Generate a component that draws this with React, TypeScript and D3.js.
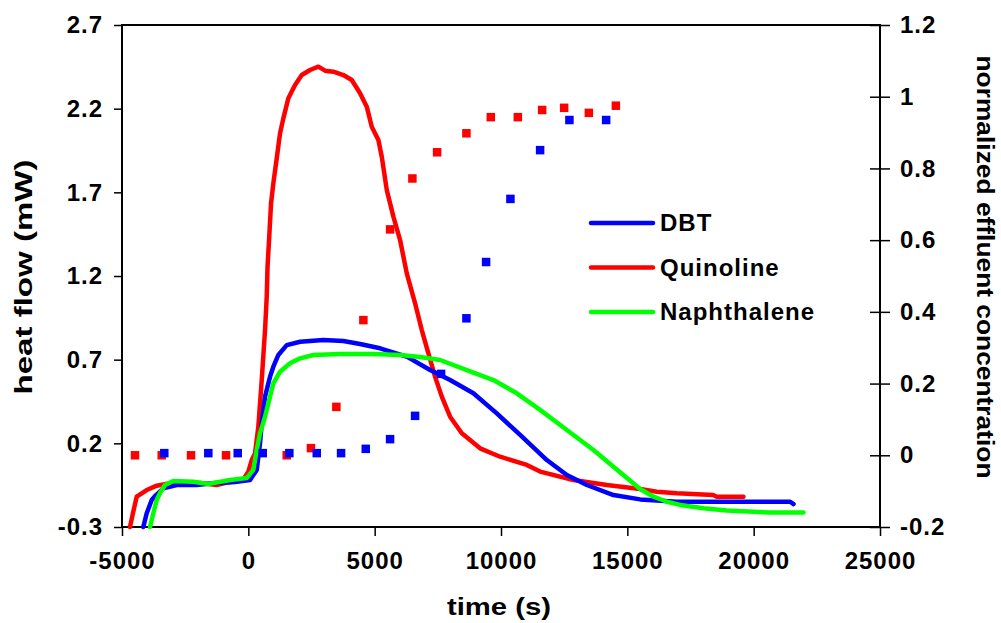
import React, { useEffect, useRef } from 'react';
import * as d3 from 'd3';

const xTicks = [-5000, 0, 5000, 10000, 15000, 20000, 25000];
const leftTicks = [-0.3, 0.2, 0.7, 1.2, 1.7, 2.2, 2.7];
const rightTicks = [-0.2, 0, 0.2, 0.4, 0.6, 0.8, 1, 1.2];

const seriesNames = ['DBT', 'Quinoline', 'Naphthalene'];
const seriesColors = ['#0000ff', '#ff0000', '#00ff00'];

// heat flow curves (time s, heat flow mW)
const quinolineCurve: [number, number][] = [
  [-4684, -0.3], [-4565, -0.216], [-4418, -0.119], [-4022, -0.079], [-3626, -0.053], [-3100, -0.039],
  [-1912, -0.037], [-1251, -0.049], [-855, -0.035], [-210, -0.019], [0, 0.031], [135, 0.1], [265, 0.14],
  [396, 0.3], [531, 0.579], [661, 0.877], [728, 1.076], [760, 1.256], [820, 1.415], [899, 1.634],
  [990, 1.754], [1124, 1.903], [1255, 2.053], [1386, 2.142], [1584, 2.262], [1849, 2.342], [2114, 2.401],
  [2443, 2.431], [2771, 2.451], [3037, 2.427], [3365, 2.421], [3761, 2.401], [4094, 2.371], [4422, 2.292],
  [4687, 2.212], [4885, 2.092], [5147, 2.013], [5281, 1.913], [5479, 1.714], [5741, 1.555], [6006, 1.415],
  [6271, 1.216], [6600, 1.037], [6865, 0.877], [7126, 0.738], [7391, 0.598], [7657, 0.479], [7985, 0.359],
  [8449, 0.26], [9173, 0.17], [9965, 0.12], [11022, 0.071], [11548, 0.031], [12867, -0.019], [14189, -0.049],
  [15507, -0.073], [16169, -0.089], [16960, -0.099], [18397, -0.109], [18544, -0.119], [19597, -0.119],
];

const dbtCurve: [number, number][] = [
  [-4157, -0.3], [-4022, -0.218], [-3824, -0.139], [-3654, -0.109], [-3365, -0.069], [-2835, -0.049],
  [-2043, -0.049], [-1318, -0.037], [-527, -0.031], [67, -0.019], [333, 0.041], [463, 0.2], [531, 0.32],
  [661, 0.479], [859, 0.598], [990, 0.658], [1188, 0.728], [1520, 0.787], [2047, 0.807], [2969, 0.817],
  [3761, 0.811], [4422, 0.794], [5214, 0.768], [6271, 0.718], [7194, 0.638], [7985, 0.578], [8908, 0.499],
  [9834, 0.379], [10757, 0.25], [11814, 0.1], [12606, 0.011], [13397, -0.049], [14450, -0.109],
  [15507, -0.135], [16960, -0.149], [21446, -0.149], [21577, -0.163],
];

const naphthaleneCurve: [number, number][] = [
  [-3892, -0.3], [-3761, -0.218], [-3626, -0.139], [-3496, -0.097], [-3298, -0.049], [-2969, -0.025],
  [-2177, -0.029], [-1584, -0.043], [-725, -0.019], [-63, -0.007], [198, 0.041], [333, 0.161], [463, 0.26],
  [661, 0.359], [792, 0.439], [990, 0.559], [1255, 0.628], [1651, 0.678], [2047, 0.708], [2573, 0.728],
  [3630, 0.734], [4949, 0.734], [6006, 0.728], [6798, 0.716], [7590, 0.698], [8646, 0.638], [9700, 0.578],
  [10626, 0.499], [11548, 0.4], [12606, 0.28], [13659, 0.16], [14450, 0.06], [15507, -0.073],
  [16034, -0.119], [16565, -0.149], [17091, -0.168], [18014, -0.188], [18940, -0.202], [20654, -0.214],
  [21972, -0.214],
];

// normalized effluent concentration (right axis)
const quinolineConcTime = [-4486, -3428, -2268, -883, 1520, 2478, 3484, 4553, 5610, 6493, 7471, 8631, 9597, 10666, 11628, 12499, 13477, 14546];
const quinolineConc = [0, 0, 0, 0, 0, 0.02, 0.135, 0.377, 0.63, 0.772, 0.845, 0.898, 0.943, 0.943, 0.963, 0.969, 0.955, 0.975];
const dbtConcTime = [-3326, -1584, -420, 570, 1623, 2708, 3670, 4648, 5610, 6600, 7629, 8631, 9410, 10373, 11548, 12708, 14161];
const dbtConc = [0.006, 0.006, 0.006, 0.006, 0.006, 0.006, 0.006, 0.018, 0.045, 0.11, 0.227, 0.382, 0.539, 0.715, 0.851, 0.935, 0.935];

const W = 1001;
const H = 623;
const FONT = "'Liberation Sans', Arial, Helvetica, sans-serif";

export default function App() {
  const ref = useRef<SVGSVGElement | null>(null);

  useEffect(() => {
    const svg = d3.select(ref.current);
    svg.selectAll('*').remove();

    const x = d3.scaleLinear().domain([-5000, 25000]).range([122, 880]);
    const yL = d3.scaleLinear().domain([-0.3, 2.7]).range([527, 25]);
    const yR = d3.scaleLinear().domain([-0.2, 1.2]).range([527, 25]);

    const styleAxis = (g: any) => {
      g.select('.domain').remove();
      g.selectAll('line').attr('stroke', '#000').attr('stroke-width', 1.5);
      g.selectAll('text')
        .attr('fill', '#000')
        .style('font-family', FONT)
        .style('font-weight', 'bold')
        .style('font-size', '24px')
        .style('letter-spacing', '1px');
    };

    // left axis
    const gl = svg.append('g').attr('transform', 'translate(122,0)')
      .call(d3.axisLeft(yL).tickValues(leftTicks).tickSize(8).tickPadding(11).tickFormat((d: any) => String(d)));
    styleAxis(gl);

    // bottom axis
    const gb = svg.append('g').attr('transform', 'translate(0,527)')
      .call(d3.axisBottom(x).tickValues(xTicks).tickSize(9).tickPadding(16).tickFormat((d: any) => String(d)));
    styleAxis(gb);

    // right axis
    const gr = svg.append('g').attr('transform', 'translate(880,0)')
      .call(d3.axisRight(yR).tickValues(rightTicks).tickSize(10).tickPadding(10).tickFormat((d: any) => String(d)));
    styleAxis(gr);
    gr.selectAll('line').attr('x1', -10).attr('x2', 10);

    // frame
    svg.append('rect').attr('x', 122).attr('y', 25).attr('width', 758).attr('height', 502)
      .attr('fill', 'none').attr('stroke', '#000').attr('stroke-width', 2);

    const line = d3.line<[number, number]>().x(d => x(d[0])).y(d => yL(d[1]));
    const curves: [[number, number][], string][] = [
      [quinolineCurve, seriesColors[1]],
      [dbtCurve, seriesColors[0]],
      [naphthaleneCurve, seriesColors[2]],
    ];
    curves.forEach(([data, color]) => {
      svg.append('path').attr('d', line(data) as string).attr('fill', 'none')
        .attr('stroke', color).attr('stroke-width', 4.5)
        .attr('stroke-linejoin', 'round').attr('stroke-linecap', 'round');
    });

    const sq = 8.5;
    svg.append('g').selectAll('rect').data(quinolineConcTime).enter().append('rect')
      .attr('x', (d) => x(d) - sq / 2).attr('y', (d, i) => yR(quinolineConc[i]) - sq / 2)
      .attr('width', sq).attr('height', sq).attr('fill', seriesColors[1]);
    svg.append('g').selectAll('rect').data(dbtConcTime).enter().append('rect')
      .attr('x', (d) => x(d) - sq / 2).attr('y', (d, i) => yR(dbtConc[i]) - sq / 2)
      .attr('width', sq).attr('height', sq).attr('fill', seriesColors[0]);

    // legend
    const lg = svg.append('g');
    seriesNames.forEach((name, i) => {
      const yy = 223 + i * 44.5;
      lg.append('line').attr('x1', 591).attr('x2', 653).attr('y1', yy).attr('y2', yy)
        .attr('stroke', seriesColors[i]).attr('stroke-width', 4.5).attr('stroke-linecap', 'round');
      lg.append('text').attr('x', 660).attr('y', yy).attr('dy', '0.35em').text(name)
        .style('font-family', FONT).style('font-weight', 'bold').style('font-size', '24px')
        .style('letter-spacing', '1px').attr('fill', '#000');
    });

    // axis titles
    svg.append('text').attr('transform', 'translate(32,277) rotate(-90)').attr('text-anchor', 'middle')
      .text('heat flow (mW)').style('font-family', FONT).style('font-weight', 'bold').style('font-size', '23px')
      .attr('textLength', 235).attr('lengthAdjust', 'spacingAndGlyphs');
    svg.append('text').attr('transform', 'translate(977,267) rotate(90)').attr('text-anchor', 'middle')
      .text('normalized effluent concentration').style('font-family', FONT).style('font-weight', 'bold').style('font-size', '23px')
      .attr('textLength', 423).attr('lengthAdjust', 'spacingAndGlyphs');
    svg.append('text').attr('x', 499).attr('y', 615).attr('text-anchor', 'middle')
      .text('time (s)').style('font-family', FONT).style('font-weight', 'bold').style('font-size', '23px')
      .attr('textLength', 104).attr('lengthAdjust', 'spacingAndGlyphs');
  }, []);

  return (
    <svg ref={ref} width={W} height={H} viewBox={`0 0 ${W} ${H}`}
      style={{ position: 'absolute', left: 0, top: 0, background: '#fff' }} />
  );
}
